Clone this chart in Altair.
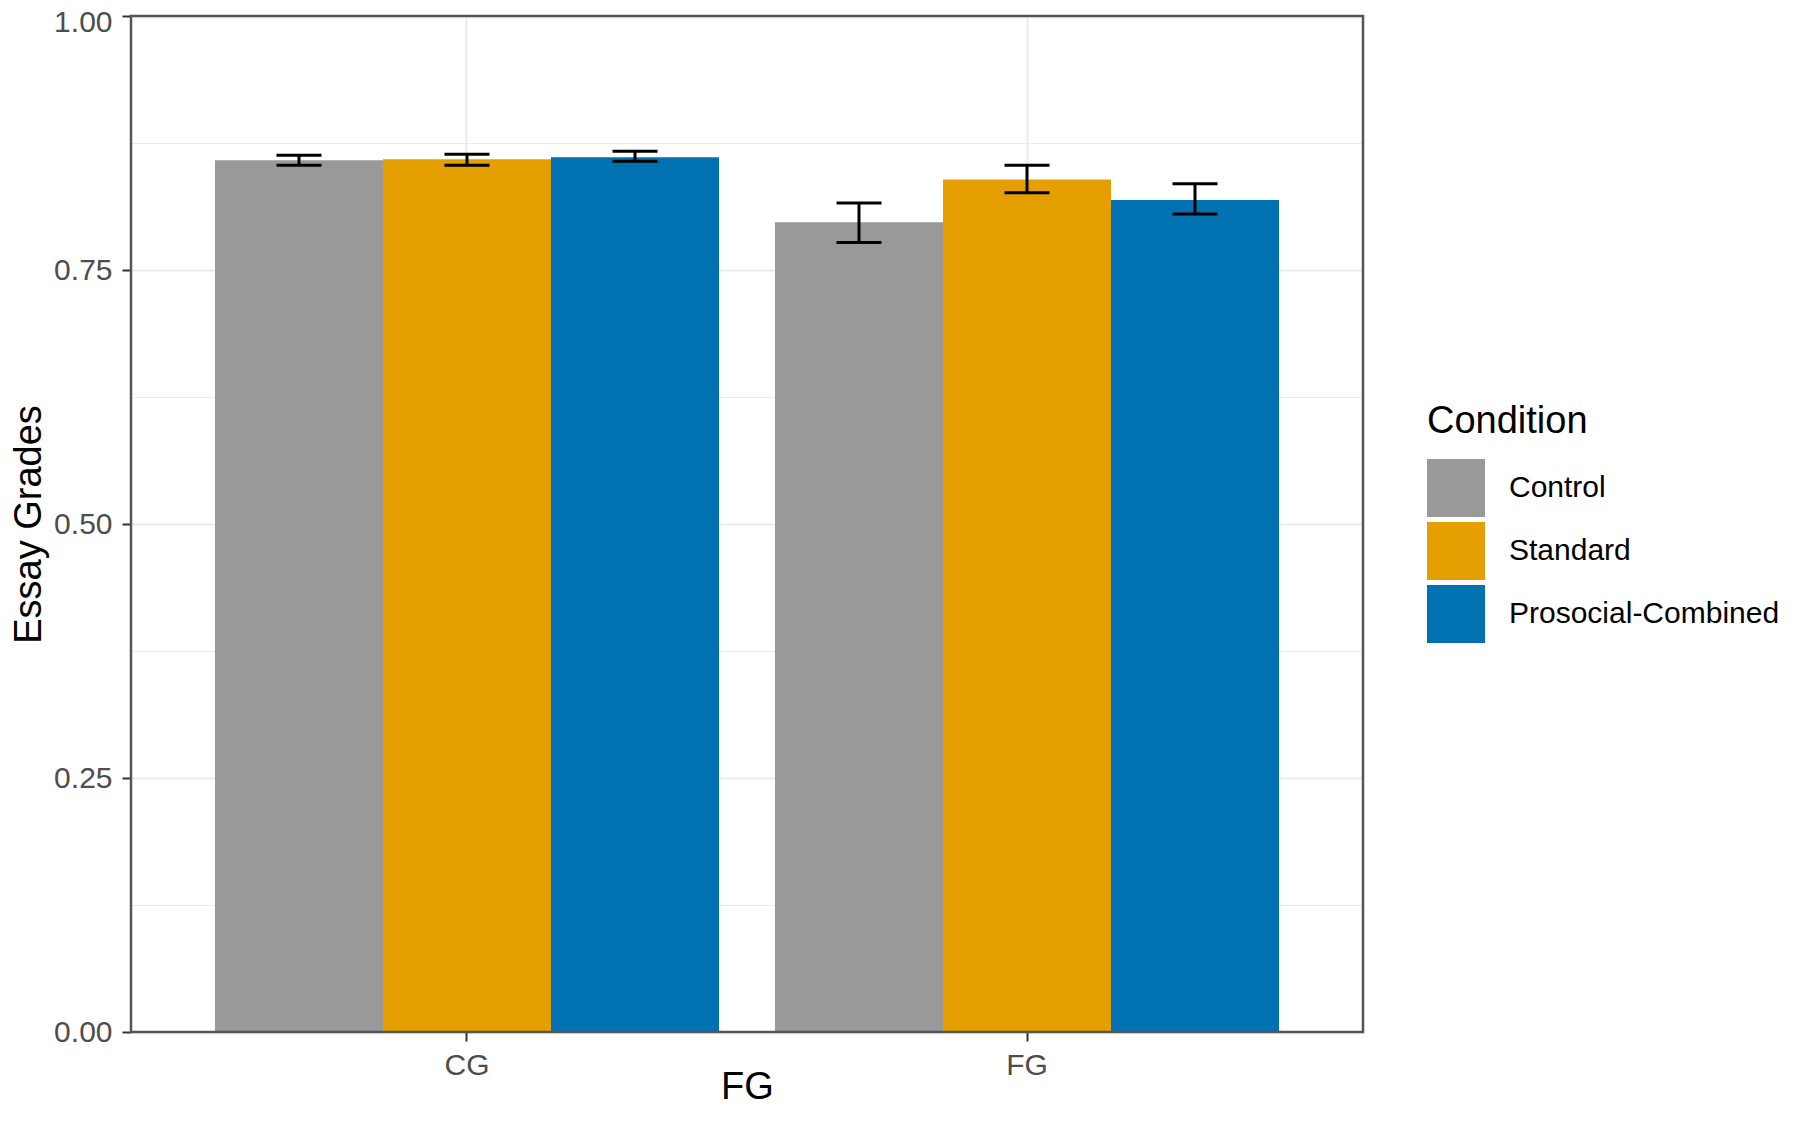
import altair as alt
import pandas as pd

# ---- data ----
groups = ["CG", "CG", "CG", "FG", "FG", "FG"]
conditions = ["Control", "Standard", "Prosocial-Combined",
              "Control", "Standard", "Prosocial-Combined"]
means = [0.858, 0.859, 0.861, 0.797, 0.839, 0.819]
lower = [0.853, 0.853, 0.857, 0.777, 0.826, 0.805]
upper = [0.863, 0.864, 0.867, 0.816, 0.853, 0.835]

cond_order = ["Control", "Standard", "Prosocial-Combined"]
cond_colors = ["#999999", "#E69F00", "#0072B2"]
group_order = ["CG", "FG"]
y_ticks = [0, 0.125, 0.25, 0.375, 0.5, 0.625, 0.75, 0.875, 1.0]

df = pd.DataFrame({"FG": groups, "Condition": conditions,
                   "mean": means, "lower": lower, "upper": upper})

FONT = "Liberation Sans"
minor_test = "round(datum.value*8) % 2 == 1"

x_enc = alt.X(
    "FG:N", sort=group_order, title="FG",
    scale=alt.Scale(paddingInner=0.1, paddingOuter=0.15),
    axis=alt.Axis(
        labelAngle=0, labelFontSize=30, labelColor="#4D4D4D", labelFont=FONT,
        labelPadding=9, tickSize=9, tickWidth=2, tickColor="#333333",
        domain=False, grid=True, gridColor="#EBEBEB", gridWidth=2,
        bandPosition=0.5,
        titleFontSize=38, titleFont=FONT, titleFontWeight="normal",
        titleColor="black", titleBaseline="alphabetic", titleX=616, titleY=66,
        titleAlign="center",
    ),
)
xo_enc = alt.XOffset("Condition:N", sort=cond_order,
                     scale=alt.Scale(domain=cond_order, paddingInner=0, paddingOuter=0))

y_axis = alt.Axis(
    values=y_ticks, format=".2f",
    labelExpr=f"{minor_test} ? '' : datum.label",
    labelFontSize=30, labelColor="#4D4D4D", labelFont=FONT, labelPadding=10,
    labelOffset={"condition": {"test": "datum.value == 1", "value": 6}, "value": 0},
    tickSize=9, tickWidth=2, tickColor="#333333",
    tickOpacity={"condition": {"test": minor_test, "value": 0}, "value": 1},
    domain=False, grid=True, gridColor="#EBEBEB",
    gridWidth={"condition": {"test": minor_test, "value": 1}, "value": 2},
    titleFontSize=38, titleFont=FONT, titleFontWeight="normal", titleColor="black",
    titleAngle=270, titleBaseline="alphabetic", titleX=-91, titleY=508,
    titleAlign="center",
)
y_scale = alt.Scale(domain=[0, 1], nice=False, zero=True)

color_enc = alt.Color(
    "Condition:N", sort=cond_order,
    scale=alt.Scale(domain=cond_order, range=cond_colors),
    legend=alt.Legend(
        orient="none", legendX=1296, legendY=387, title="Condition",
        titleFontSize=38, titleFont=FONT, titleFontWeight="normal",
        titleColor="black", titlePadding=18, titleLimit=0,
        labelFontSize=30, labelFont=FONT, labelColor="black", labelOffset=24,
        labelLimit=0,
        symbolType="square", symbolSize=3364, symbolStrokeWidth=0,
        symbolOpacity=1, rowPadding=5,
    ),
)

bars = alt.Chart(df).mark_bar(stroke=None).encode(
    x=x_enc, xOffset=xo_enc,
    y=alt.Y("mean:Q", title="Essay Grades", scale=y_scale, axis=y_axis),
    color=color_enc,
)

err_line = alt.Chart(df).mark_rule(color="black", strokeWidth=3).encode(
    x=alt.X("FG:N", sort=group_order), xOffset=xo_enc,
    y=alt.Y("lower:Q", scale=y_scale), y2="upper:Q",
)
cap_lo = alt.Chart(df).mark_tick(color="black", thickness=3, size=45, opacity=1).encode(
    x=alt.X("FG:N", sort=group_order), xOffset=xo_enc,
    y=alt.Y("lower:Q", scale=y_scale),
)
cap_hi = alt.Chart(df).mark_tick(color="black", thickness=3, size=45, opacity=1).encode(
    x=alt.X("FG:N", sort=group_order), xOffset=xo_enc,
    y=alt.Y("upper:Q", scale=y_scale),
)

# panel border (theme_bw style), drawn on top of grid lines
frame = alt.Chart(pd.DataFrame({"k": [0]})).mark_rect(
    filled=False, stroke="#555555", strokeWidth=2.5
).encode(
    x=alt.value(0), x2=alt.value({"expr": "width"}),
    y=alt.value(0), y2=alt.value({"expr": "height"}),
)

chart = alt.layer(bars, err_line, cap_lo, cap_hi, frame).properties(
    width=1232, height=1016,
    autosize=alt.AutoSizeParams(type="none"),
    padding={"left": 123, "top": 8, "right": 425, "bottom": 76},
).configure_view(
    stroke=None,
).configure(font=FONT)

chart.save("out.html", embed_options={"renderer": "svg", "actions": False})
